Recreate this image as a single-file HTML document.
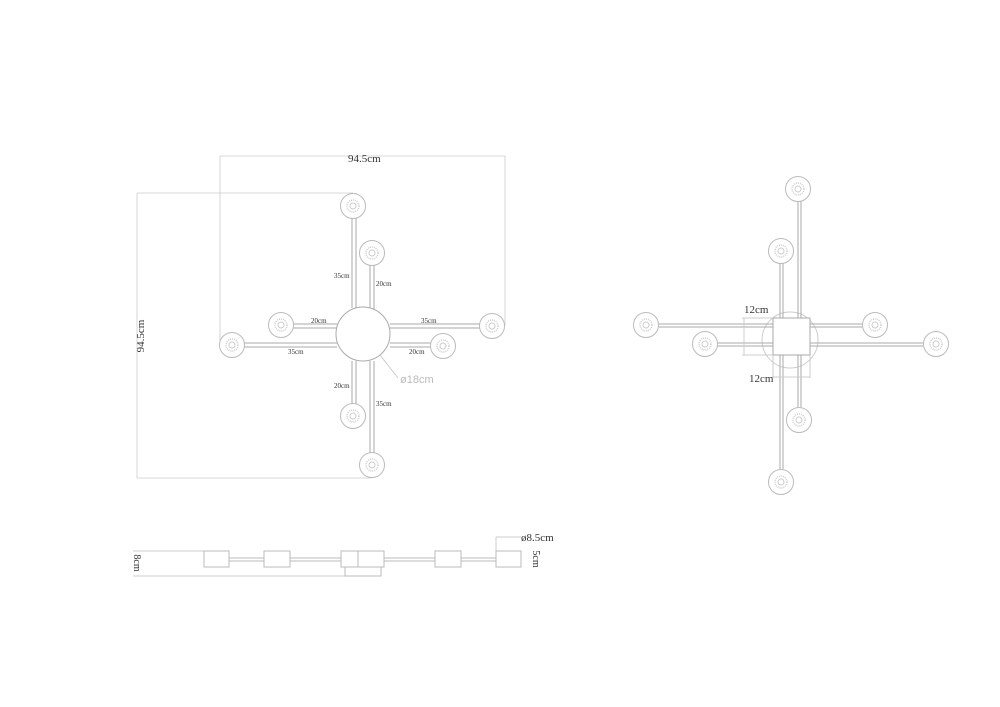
<!DOCTYPE html>
<html><head><style>body{margin:0;background:#fff}svg{display:block}</style></head><body>
<svg width="1000" height="707" xmlns="http://www.w3.org/2000/svg" font-family="Liberation Serif, serif">
<defs>
<g id="lamp"><circle r="12.5" fill="#fff" stroke="#bbb" stroke-width="1"/><circle r="6" fill="none" stroke="#ccc" stroke-width="1.5" stroke-dasharray="1 1"/><circle r="3" fill="none" stroke="#ccc"/></g>
</defs>
<g stroke="#ccc" stroke-width="0.8" fill="none">
<!-- dims left -->
<path d="M220 156H505M220 156V345M505 156V326M137 193H353M137 478H372M137 193V478"/>
</g>
<g stroke="#aaa" stroke-width="1" fill="none">
<path d="M352 193V308M356 193V308M370 242V310M374 242V310"/>
<path d="M280 324H337M280 328H337M228 343H337M228 347H337"/>
<path d="M390 324H491M390 328H491M390 343H432M390 347H432"/>
<path d="M352 361V416M356 361V416M370 361V465M374 361V465"/>
</g>
<circle cx="363" cy="334" r="27" fill="#fff" stroke="#aaa"/>
<path d="M380 355L398 378" stroke="#ccc" fill="none"/>
<g><use href="#lamp" x="353" y="206"/><use href="#lamp" x="372" y="253"/><use href="#lamp" x="281" y="325"/><use href="#lamp" x="232" y="345"/><use href="#lamp" x="492" y="326"/><use href="#lamp" x="443" y="346"/><use href="#lamp" x="353" y="416"/><use href="#lamp" x="372" y="465"/></g>
<g font-size="9" fill="#333">
<text x="348" y="162" font-size="11">94.5cm</text>
<text x="144" y="336" font-size="11" transform="rotate(-90 144 336)" text-anchor="middle">94.5cm</text>
<text x="334" y="278" font-size="7">35cm</text>
<text x="376" y="286" font-size="7">20cm</text>
<text x="311" y="323" font-size="7">20cm</text>
<text x="421" y="323" font-size="7">35cm</text>
<text x="288" y="354" font-size="7">35cm</text>
<text x="409" y="354" font-size="7">20cm</text>
<text x="334" y="388" font-size="7">20cm</text>
<text x="376" y="406" font-size="7">35cm</text>
<text x="400" y="383" font-size="11" fill="#bbb" font-family="Liberation Sans, sans-serif">ø18cm</text>
</g>
<!-- right view -->
<circle cx="790" cy="340" r="28" fill="none" stroke="#ccc"/>
<g stroke="#aaa" fill="none">
<path d="M798 200V318M801 200V318M780 262V318M783 262V318"/>
<path d="M659 324H773M659 327H773M712 343H773M712 346H773"/>
<path d="M810 324H862M810 327H862M810 343H923M810 346H923"/>
<path d="M798 355V407M801 355V407M780 355V469M783 355V469"/>
<rect x="773" y="318" width="37" height="37" fill="#fff"/>
</g>
<g stroke="#ccc" fill="none"><path d="M744 318V355M742 318H773M742 355H773M773 355V378M810 355V378M773 377H810"/></g>
<g><use href="#lamp" x="798" y="189"/><use href="#lamp" x="781" y="251"/><use href="#lamp" x="646" y="325"/><use href="#lamp" x="705" y="344"/><use href="#lamp" x="875" y="325"/><use href="#lamp" x="936" y="344"/><use href="#lamp" x="799" y="420"/><use href="#lamp" x="781" y="482"/></g>
<text x="744" y="313" font-size="11" fill="#333">12cm</text>
<text x="749" y="382" font-size="11" fill="#333">12cm</text>
<!-- side view -->
<g stroke="#bbb" fill="#fff" stroke-width="1">
<path d="M133 551H204M133 576H345M496 537H521M496 537V551" fill="none" stroke="#ccc"/>
<path d="M229 558H264M290 558H341M384 558H435M461 558H496M229 561H264M290 561H341M384 561H435M461 561H496" fill="none"/>
<rect x="345" y="567" width="36" height="9"/>
<rect x="204" y="551" width="25" height="16"/>
<rect x="264" y="551" width="26" height="16"/>
<rect x="341" y="551" width="17" height="16"/>
<rect x="358" y="551" width="26" height="16"/>
<rect x="435" y="551" width="26" height="16"/>
<rect x="496" y="551" width="25" height="16"/>
</g>
<text x="521" y="541" font-size="11" fill="#333">ø8.5cm</text>
<text x="134" y="563" font-size="10" fill="#333" transform="rotate(90 134 563)" text-anchor="middle">8cm</text>
<text x="533" y="559" font-size="10" fill="#333" transform="rotate(90 533 559)" text-anchor="middle">5cm</text>
</svg>
</body></html>
